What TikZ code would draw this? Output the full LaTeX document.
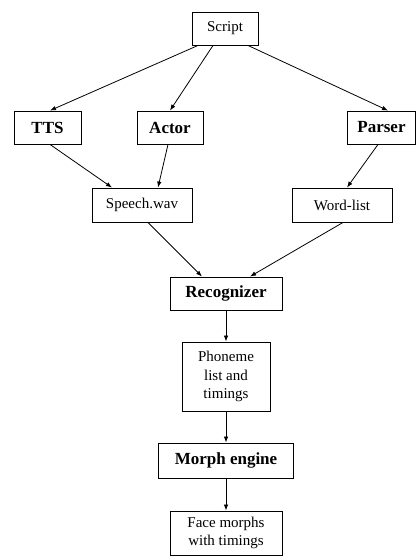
\documentclass[tikz,border=0pt]{standalone}
\usepackage{fontspec}
\setmainfont{Liberation Serif}
\usetikzlibrary{arrows.meta,calc}
\begin{document}
\begin{tikzpicture}[x=1pt,y=-1pt,
  box/.style={draw=black,line width=0.9pt,inner sep=0pt,align=center,font=\fontsize{15}{18.5}\selectfont},
  bbox/.style={box,font=\fontsize{17}{19}\selectfont\bfseries},
  arr/.style={draw=black,line width=0.8pt,-{Latex[length=6pt,width=4.5pt]}}]
\useasboundingbox (0,0) rectangle (417,557);
\node[box,minimum width=66pt,minimum height=33pt] (script) at (225,28.5) {Script};
\node[bbox,minimum width=67pt,minimum height=33pt] (tts) at (47.5,127.5) {TTS};
\node[bbox,minimum width=66pt,minimum height=33pt] (actor) at (170,127.5) {Actor};
\node[bbox,minimum width=68pt,minimum height=33pt] (parser) at (381.5,127.5) {Parser};
\node[box,minimum width=100pt,minimum height=34pt] (speech) at (142,205) {Speech.wav};
\node[box,minimum width=100pt,minimum height=34pt] (word) at (342,205) {Word-list};
\node[bbox,minimum width=112pt,minimum height=33pt] (recog) at (226,293.5) {Recognizer};
\node[box,minimum width=88pt,minimum height=69pt] (phon) at (226,376.5) {Phoneme\\list and\\timings};
\node[bbox,minimum width=135pt,minimum height=35pt] (morph) at (226,460.5) {Morph engine};
\node[box,minimum width=112pt,minimum height=44pt] (face) at (226,533) {Face morphs\\with timings};
\draw[arr] ($(script.south)+(-27,0)$) -- ($(tts.north)+(2.5,0)$);
\draw[arr] ($(script.south)+(-12,0)$) -- (actor.north);
\draw[arr] ($(script.south)+(23,0)$) -- ($(parser.north)+(6.5,0)$);
\draw[arr] ($(tts.south)+(2.5,0)$) -- ($(speech.north)+(-30,0)$);
\draw[arr] ($(actor.south)+(-2,0)$) -- ($(speech.north)+(16,0)$);
\draw[arr] ($(parser.south)+(-3.5,0)$) -- ($(word.north)+(5,0)$);
\draw[arr] ($(speech.south)+(6,0)$) -- ($(recog.north)+(-24,0)$);
\draw[arr] ($(word.south)+(1,0)$) -- ($(recog.north)+(24,0)$);
\draw[arr] (recog.south) -- (phon.north);
\draw[arr] (phon.south) -- (morph.north);
\draw[arr] (morph.south) -- (face.north);
\end{tikzpicture}
\end{document}
